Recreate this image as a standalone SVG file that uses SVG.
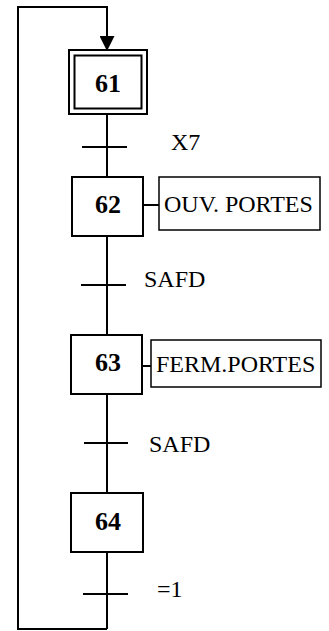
<svg xmlns="http://www.w3.org/2000/svg" width="329" height="631" viewBox="0 0 329 631">
<style>
.ln{stroke:#000;stroke-width:2;fill:none}
.box{stroke:#000;stroke-width:2;fill:#fff}
.abox{stroke:#000;stroke-width:1.5;fill:#fff}
.num{font-family:"Liberation Serif",serif;font-weight:bold;font-size:26px;text-anchor:middle}
.lbl{font-family:"Liberation Serif",serif;font-size:24px}
.act{font-family:"Liberation Serif",serif;font-size:24px}
</style>
<defs>
<marker id="arr" markerWidth="15" markerHeight="15" refX="15" refY="7.5" orient="auto" markerUnits="userSpaceOnUse">
<path d="M0,0 L15,7.5 L0,15 Z" fill="#000"/>
</marker>
</defs>
<g id="connectors">
<polyline class="ln" points="107,629 18,629 18,7 107,7 107,51" marker-end="url(#arr)"/>
<line class="ln" x1="107" y1="113" x2="107" y2="177"/>
<line class="ln" x1="107" y1="236" x2="107" y2="335"/>
<line class="ln" x1="107" y1="394" x2="107" y2="493"/>
<line class="ln" x1="107" y1="552" x2="107" y2="629"/>
<line class="ln" x1="143" y1="205" x2="159" y2="205"/>
<line class="ln" x1="142" y1="366" x2="151" y2="366"/>
</g>
<g id="t1"><line class="ln" x1="82" y1="147" x2="127" y2="147"/><text class="lbl" x="171" y="150">X7</text></g>
<g id="t2"><line class="ln" x1="81" y1="285" x2="126" y2="285"/><text class="lbl" x="144" y="287">SAFD</text></g>
<g id="t3"><line class="ln" x1="84" y1="443" x2="128" y2="443"/><text class="lbl" x="149" y="452">SAFD</text></g>
<g id="t4"><line class="ln" x1="83" y1="594" x2="128" y2="594"/><text class="lbl" x="157" y="597">=1</text></g>
<g id="s61">
<rect class="box" x="69" y="50" width="78" height="64"/>
<rect class="box" x="74.5" y="55.5" width="67" height="53"/>
<text class="num" x="108" y="92">61</text>
</g>
<g id="s62">
<rect class="box" x="72" y="177" width="71" height="59"/>
<text class="num" x="108" y="213">62</text>
</g>
<g id="a62">
<rect class="abox" x="159" y="177" width="161" height="53"/>
<text class="act" x="164" y="212">OUV. PORTES</text>
</g>
<g id="s63">
<rect class="box" x="71" y="335" width="71" height="59"/>
<text class="num" x="108" y="371">63</text>
</g>
<g id="a63">
<rect class="abox" x="151" y="340" width="170" height="47"/>
<text class="act" x="156" y="372">FERM.PORTES</text>
</g>
<g id="s64">
<rect class="box" x="71" y="493" width="72" height="59"/>
<text class="num" x="108" y="530">64</text>
</g>
</svg>
